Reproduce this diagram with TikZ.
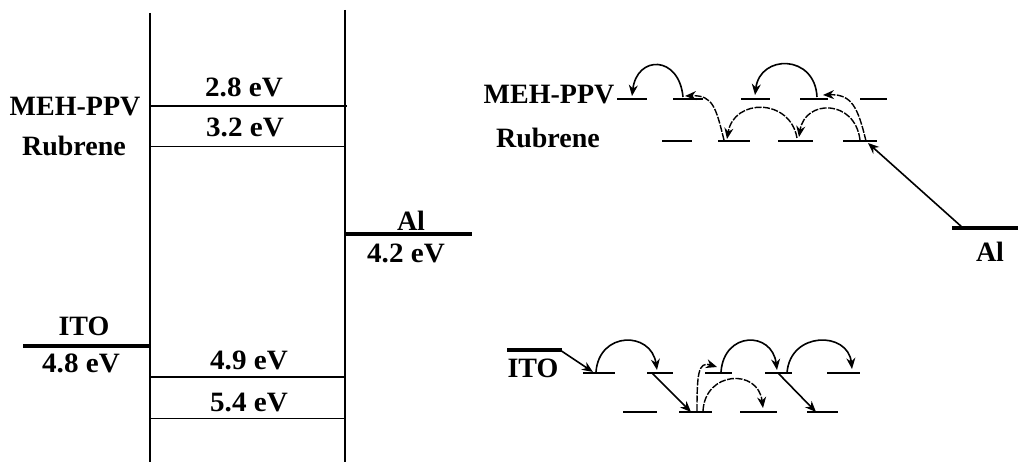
\documentclass[tikz,border=0pt]{standalone}
\usepackage{fontspec}
\setmainfont{Liberation Serif}
\usetikzlibrary{arrows.meta}
\newcommand{\lbl}[1]{\scalebox{1.04}[1]{#1}}
\begin{document}
\begin{tikzpicture}[x=1pt,y=-1pt,
  txt/.style={inner sep=0pt,font=\fontsize{28}{30}\selectfont\bfseries},
  wall/.style={line width=1.3pt},
  lvl/.style={line width=1.3pt},
  lvlthin/.style={line width=0.9pt},
  metal/.style={line width=4pt},
  seg/.style={line width=1.4pt},
  segd/.style={line width=1.2pt},
  hop/.style={line width=1.6pt,-{Stealth[length=11pt,width=9pt]}},
  hopd/.style={line width=1.4pt,dash pattern=on 7pt off 1.5pt,-{Stealth[length=11pt,width=9pt]}}]
\useasboundingbox (0,0) rectangle (1018,462);
% ---------- left band diagram ----------
\coordinate (wl1) at (150,13); \coordinate (wl2) at (150,462);
\coordinate (wr1) at (345,10); \coordinate (wr2) at (345,462);
\draw[wall] (wl1) -- (wl2);
\draw[wall] (wr1) -- (wr2);
\coordinate (l28a) at (150,106); \coordinate (l28b) at (347,106);
\coordinate (l32a) at (150,146); \coordinate (l32b) at (345,146);
\coordinate (l49a) at (151,377); \coordinate (l49b) at (346,377);
\coordinate (l54a) at (151,418); \coordinate (l54b) at (346,418);
\coordinate (ala) at (346,234); \coordinate (alb) at (472,234);
\coordinate (itoa) at (23,346); \coordinate (itob) at (151,346);
\draw[lvl] (l28a) -- (l28b);
\draw[lvlthin] (l32a) -- (l32b);
\draw[lvl] (l49a) -- (l49b);
\draw[lvlthin] (l54a) -- (l54b);
\draw[metal] (ala) -- (alb);
\draw[metal] (itoa) -- (itob);
\node[txt] (t28) at (244,87) {\lbl{2.8 eV}};
\node[txt] (t32) at (245,127) {\lbl{3.2 eV}};
\node[txt] (t49) at (249,360) {\lbl{4.9 eV}};
\node[txt] (t54) at (249,402) {\lbl{5.4 eV}};
\node[txt] (tmeh) at (75,107) {MEH-PPV};
\node[txt] (trub) at (74,146) {Rubrene};
\node[txt] (tal) at (411,221) {Al};
\node[txt] (t42) at (406,253) {\lbl{4.2 eV}};
\node[txt] (tito) at (84,326) {ITO};
\node[txt] (t48) at (81,363) {\lbl{4.8 eV}};
% ---------- right top: electrons ----------
\node[txt] (rmeh) at (549,95) {MEH-PPV};
\node[txt] (rrub) at (548,138) {Rubrene};
\foreach \a/\b in {617/647,673/703,741/770,800/828,860/887}
  \draw[seg] (\a,99) -- (\b,99);
\foreach \a/\b in {662/692,718/750,778/813,843/877}
  \draw[segd] (\a,141) -- (\b,141);
\coordinate (ral1) at (952,228); \coordinate (ral2) at (1018,228);
\draw[metal] (ral1) -- (ral2);
\node[txt] (ral) at (990,252) {Al};
\coordinate (alinj) at (963,228);
\coordinate (r4) at (868,143);
\draw[hop] (alinj) -- (r4);
\coordinate (e1s) at (683,97); \coordinate (e1e) at (632,96);
\draw[hop] (e1s) .. controls (679,55) and (637,55) .. (e1e);
\coordinate (c1s) at (724,140); \coordinate (c1e) at (685,96);
\draw[hopd] (c1s) .. controls (716,108) and (713,95) .. (c1e);
\coordinate (aAs) at (797,138); \coordinate (aAe) at (727,139);
\draw[hopd] (aAs) .. controls (790,98) and (734,98) .. (aAe);
\coordinate (aBs) at (860,140); \coordinate (aBe) at (799,137);
\draw[hopd] (aBs) .. controls (855,99) and (805,99) .. (aBe);
\coordinate (c2s) at (866,141); \coordinate (c2e) at (823,95);
\draw[hopd] (c2s) .. controls (858,108) and (852,94) .. (c2e);
\coordinate (e2s) at (817,97); \coordinate (e2e) at (755,95);
\draw[hop] (e2s) .. controls (815,54) and (760,54) .. (e2e);
% ---------- right bottom: holes ----------
\coordinate (rito1) at (507,350); \coordinate (rito2) at (562,350);
\draw[metal] (rito1) -- (rito2);
\node[txt] (rito) at (533,368) {ITO};
\foreach \a/\b in {583/615,647/673,705/732,765/792,827/860}
  \draw[seg] (\a,373) -- (\b,373);
\foreach \a/\b in {623/657,679/712,740/777,807/838}
  \draw[segd] (\a,412) -- (\b,412);
\coordinate (hi) at (560,350); \coordinate (h1) at (593,372);
\draw[hop] (hi) -- (h1);
\coordinate (b1s) at (596,372); \coordinate (b1e) at (657,370);
\draw[hop] (b1s) .. controls (599,331) and (651,331) .. (b1e);
\coordinate (d1s) at (652,373); \coordinate (d1e) at (691,412);
\draw[hop] (d1s) -- (d1e);
\coordinate (c3s) at (697,411); \coordinate (c3e) at (717,367);
\draw[hopd] (c3s) .. controls (697,375) and (698,361) .. (c3e);
\coordinate (b2s) at (703,411); \coordinate (b2e) at (763,408);
\draw[hopd] (b2s) .. controls (705,371) and (758,368) .. (b2e);
\coordinate (b3s) at (721,372); \coordinate (b3e) at (777,370);
\draw[hop] (b3s) .. controls (724,331) and (772,331) .. (b3e);
\coordinate (b4s) at (787,373); \coordinate (b4e) at (852,369);
\draw[hop] (b4s) .. controls (790,331) and (848,331) .. (b4e);
\coordinate (d2s) at (778,373); \coordinate (d2e) at (816,412);
\draw[hop] (d2s) -- (d2e);
\end{tikzpicture}
\end{document}
